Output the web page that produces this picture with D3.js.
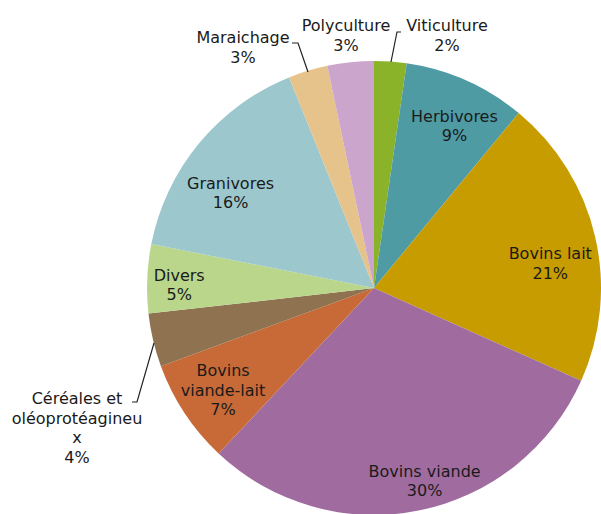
<!DOCTYPE html>
<html lang="fr">
<head>
<meta charset="utf-8">
<title>Répartition des exploitations</title>
<script src="https://d3js.org/d3.v7.min.js"></script>
<style>
  body { margin: 0; background: #fff; }
  .lbl { font-family: "DejaVu Sans", Verdana, sans-serif; font-size: 16px; fill: #1a1a1a; }
</style>
</head>
<body>
<div id="chart"></div>
<script>
var width = 601, height = 514;

// data, clockwise from 12 o'clock
var categories = ["Viticulture", "Herbivores", "Bovins lait", "Bovins viande", "Bovins viande-lait",
                  "Céréales et oléoprotéagineux", "Divers", "Granivores", "Maraichage", "Polyculture"];
var shares = [2.3, 8.7, 20.7, 30.3, 7.4, 3.8, 4.9, 15.8, 2.8, 3.3];
var labelLines = [["Viticulture"], ["Herbivores"], ["Bovins lait"], ["Bovins viande"], ["Bovins", "viande-lait"],
                  ["Céréales et", "oléoprotéagineu", "x"], ["Divers"], ["Granivores"], ["Maraichage"], ["Polyculture"]];
var colors = ["#8ab32a", "#4f9ba4", "#c79c00", "#a06ca0", "#c86a37",
              "#8f7250", "#b9d68b", "#9cc7cd", "#e6c38b", "#cca5cd"];

var cx = 374, cy = 288, radius = 227;
var lineH = 19.5;

var svg = d3.select("#chart").append("svg")
    .attr("width", width)
    .attr("height", height);

var g = svg.append("g").attr("transform", "translate(" + cx + "," + cy + ")");

var pie = d3.pie().sort(null).value(function(d) { return d; });
var arcs = pie(shares);
var arc = d3.arc().innerRadius(0).outerRadius(radius);

g.selectAll("path.slice")
    .data(arcs)
    .enter().append("path")
    .attr("class", "slice")
    .attr("d", arc)
    .attr("fill", function(d, i) { return colors[i]; });

// label layout: inside labels use a centroid at labelR plus a small nudge
var labelR = 181;
var inside = {1: [7, 3], 2: [0, 16], 3: [15, 15], 4: [0, 2], 6: [-14, 4], 7: [-4, 20]};
// outside labels: text block centre relative to pie centre, plus leader line
var outside = {
  0: {tx: 73, ty: -253, path: [[17, -226], [23, -256], [27, -256]]},
  8: {tx: -131, ty: -241, path: [[-66, -216], [-76, -245], [-82, -245]]},
  9: {tx: -28, ty: -253, path: null},
  5: {tx: -297, ty: 139.5, path: [[-220, 55], [-237, 114], [-242, 114]]}
};

var labelArc = d3.arc().innerRadius(labelR).outerRadius(labelR);

arcs.forEach(function(a, i) {
  var lines = labelLines[i].concat([d3.format(".0f")(shares[i]) + "%"]);
  var x, y;
  if (inside[i]) {
    var c = labelArc.centroid(a);
    x = c[0] + inside[i][0];
    y = c[1] + inside[i][1];
  } else {
    var o = outside[i];
    x = o.tx; y = o.ty;
    if (o.path) {
      g.append("path")
        .attr("d", d3.line()(o.path))
        .attr("fill", "none")
        .attr("stroke", "#222")
        .attr("stroke-width", 1.2);
    }
  }
  var t = g.append("text")
      .attr("class", "lbl")
      .attr("text-anchor", "middle")
      .attr("x", x)
      .attr("y", y - (lines.length - 1) * lineH / 2 + 6);
  lines.forEach(function(s, k) {
    t.append("tspan")
      .attr("x", x)
      .attr("dy", k === 0 ? 0 : lineH)
      .text(s);
  });
});
</script>
</body>
</html>
